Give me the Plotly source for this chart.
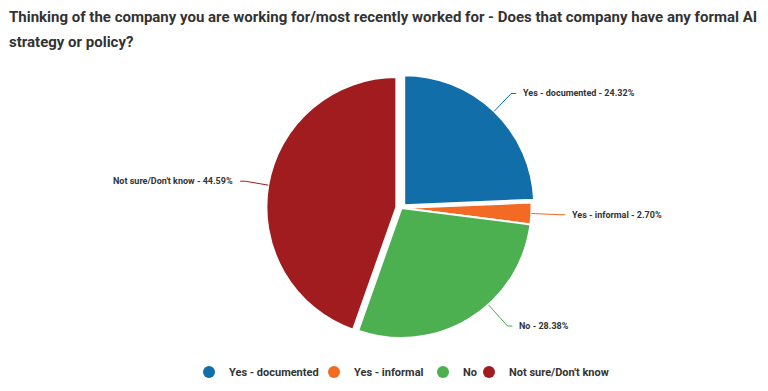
import math
import plotly.graph_objects as go

# ---- data ----
labels = ["Yes - documented", "Yes - informal", "No", "Not sure/Don't know"]
values = [24.32, 2.70, 28.38, 44.59]
colors = ["#116EA9", "#F26A24", "#4CAF50", "#A11C1E"]
pulls = [0.03, 0.0, 0.0, 0.04]
title_lines = [
    "Thinking of the company you are working for/most recently worked for - Does that company have any formal AI",
    "strategy or policy?",
]

# ---- layout geometry (screen pixels) ----
VIEW_W, VIEW_H = 768, 391
OFF = 8                            # default page body margin
W, H = VIEW_W - OFF, VIEW_H - OFF  # figure size so it fits the window
cx, cy = 401.5, 208    # pie centre (screen)
r = 130                # pie radius
label_r = r * 1.22     # elbow radius of leader lines
label_ymax = 326       # lowest label row allowed
legend_symbol_x = [210, 335, 444, 490]   # legend entry positions (screen)
legend_y = 372
SYMBOL_OFFSET = 21     # legend box left edge -> symbol centre
FONT = "Roboto, Arial, sans-serif"
TXT = "#333333"

def px(x):
    return (x - OFF) / W

def py(y):
    return 1 - (y - OFF) / H

maxpull = max(pulls)
half = r * (1 + maxpull)
dom_x = [px(cx - half), px(cx + half)]
dom_y = [py(cy + half), py(cy - half)]

fig = go.Figure()
fig.add_trace(go.Pie(
    labels=labels, values=values, sort=False, direction="clockwise", rotation=0,
    marker=dict(colors=colors, line=dict(color="white", width=2)),
    pull=pulls, textinfo="none", hoverinfo="label+percent",
    domain=dict(x=dom_x, y=dom_y), showlegend=False,
))

# legend entries with round markers, one legend box per entry
legend_layout = {}
for i, (lab, col) in enumerate(zip(labels, colors)):
    key = "legend" if i == 0 else f"legend{i + 1}"
    fig.add_trace(go.Scatter(x=[None], y=[None], mode="markers", name=lab,
                             legend=key,
                             marker=dict(color=col, size=12, symbol="circle")))
    legend_layout[key] = dict(
        orientation="h", x=px(legend_symbol_x[i] - SYMBOL_OFFSET), xanchor="left",
        y=py(legend_y), yanchor="middle",
        font=dict(family=FONT, size=11, color=TXT, weight="bold"),
        itemwidth=30, bgcolor="rgba(0,0,0,0)",
    )

# outside labels with leader lines, computed from the values
total = sum(values)
cum = 0.0
shapes, annotations = [], []
for lab, v, col, pl in zip(labels, values, colors, pulls):
    mid = (cum + v / 2) / total * 2 * math.pi
    cum += v
    ux, uy = math.sin(mid), -math.cos(mid)
    ex, ey = cx + label_r * ux, cy + label_r * uy
    side = 1 if ux >= 0 else -1
    if ey > label_ymax:
        ey = label_ymax
        ex = cx + side * math.sqrt(max(label_r ** 2 - (ey - cy) ** 2, 0))
    dx, dy = ex - cx, ey - cy
    d = math.hypot(dx, dy)
    offx, offy = pl * r * ux, pl * r * uy
    sx, sy = cx + offx + r * dx / d, cy + offy + r * dy / d
    hx = ex + side * 5
    path = f"M {px(sx)} {py(sy)} L {px(ex)} {py(ey)} L {px(hx)} {py(ey)}"
    shapes.append(dict(type="path", xref="paper", yref="paper", path=path,
                       line=dict(color=col, width=1)))
    pct = v / total * 100
    annotations.append(dict(
        x=px(hx + side * 5), y=py(ey), xref="paper", yref="paper",
        text=f"{lab} - {pct:.2f}%", showarrow=False,
        xanchor="left" if side > 0 else "right", yanchor="middle",
        font=dict(family=FONT, size=9, color=TXT, weight="bold"),
    ))

# title as two lines
for i, t in enumerate(title_lines):
    annotations.append(dict(
        x=px(7), y=py(17 + 25 * i), xref="paper", yref="paper", text=t,
        showarrow=False, xanchor="left", yanchor="middle",
        font=dict(family=FONT, size=15, color=TXT, weight="bold"),
    ))

fig.update_layout(
    width=W, height=H, margin=dict(l=0, r=0, t=0, b=0),
    paper_bgcolor="white", plot_bgcolor="white",
    xaxis=dict(visible=False), yaxis=dict(visible=False),
    shapes=shapes, annotations=annotations,
    **legend_layout,
)

fig.write_html("out.html")
